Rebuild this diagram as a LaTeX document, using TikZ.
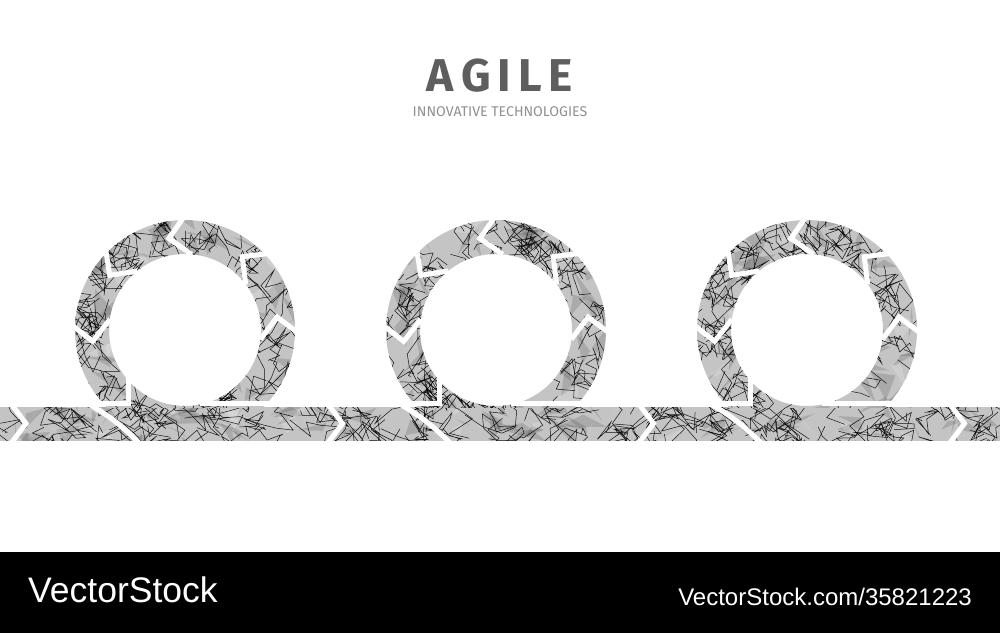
\documentclass[tikz,border=0pt]{standalone}
\usepackage{fontspec}
\setmainfont{Liberation Sans}
\newfontfamily\titlefont{Fira Sans}
\usetikzlibrary{calc}
\definecolor{ringgray}{HTML}{C4C4C4}
\definecolor{titlegray}{HTML}{5E5E5E}
\definecolor{subgray}{HTML}{909090}
\begin{document}
\begin{tikzpicture}[x=1pt,y=1pt,
  gap/.style={draw=white, line width=5pt, line join=miter, line cap=butt},
  tex/.style={draw=black, line width=0.5pt, line join=miter, opacity=0.9},
  darkpatch/.style={fill=black, opacity=0.13},
  lightpatch/.style={fill=white, opacity=0.18},
  wm/.style={text=white, inner sep=0pt}
  ]
\useasboundingbox (0,0) rectangle (1000,633);
\fill[white] (0,0) rectangle (1000,633);
\pgfmathsetseed{4242}

% ---------- title ----------
\node[font=\titlefont\fontsize{46}{46}\selectfont\bfseries, text=titlegray, anchor=base, inner sep=0pt]
  (title) at (500,541.3) {A\kern7pt G\kern7pt I\kern7pt L\kern7pt E};
\node[font=\titlefont\fontsize{14.1}{15}\selectfont, text=subgray, anchor=base, inner sep=0pt]
  (subtitle) at (500,516.3) {INNOVATIVE TECHNOLOGIES};

% ---------- band ----------
\begin{scope}
  \clip (0,193) rectangle (1000,226);
  \fill[ringgray] (0,190) rectangle (1000,230);
  \foreach \k in {1,...,90} {
    \pgfmathsetmacro\px{1000*rnd}
    \pgfmathsetmacro\py{190+40*rnd}
    \fill[darkpatch] (\px,\py) -- ++({30*rand},{20*rand}) -- ++({30*rand},{20*rand}) -- cycle;
  }
  \foreach \k in {1,...,25} {
    \pgfmathsetmacro\px{1000*rnd}
    \pgfmathsetmacro\py{190+40*rnd}
    \fill[lightpatch] (\px,\py) -- ++({30*rand},{20*rand}) -- ++({30*rand},{20*rand}) -- cycle;
  }
  \foreach \k in {1,...,170} {
    \pgfmathsetmacro\px{1000*rnd}
    \pgfmathsetmacro\py{188+44*rnd}
    \draw[tex] (\px,\py) \foreach \j in {1,...,6}{ -- ++({22*rand},{18*rand}) };
  }
\end{scope}

% ---------- rings ----------
\foreach \cx/\nm in {185/loopA,496/loopB,807/loopC} {
  \coordinate (\nm) at (\cx,303);
  \begin{scope}
    \clip (\cx-115,226) rectangle (\cx+115,420);
    \begin{scope}[even odd rule]
    \clip (\cx,303) circle (110) (\cx,303) circle (76);
    \fill[ringgray] (\cx-115,180) rectangle (\cx+115,420);
    \foreach \k in {1,...,45} {
      \pgfmathsetmacro\ang{360*rnd}
      \pgfmathsetmacro\rad{74+40*rnd}
      \fill[darkpatch] ({\cx+\rad*cos(\ang)},{303+\rad*sin(\ang)}) -- ++({28*rand},{28*rand}) -- ++({28*rand},{28*rand}) -- cycle;
    }
    \foreach \k in {1,...,10} {
      \pgfmathsetmacro\ang{360*rnd}
      \pgfmathsetmacro\rad{74+40*rnd}
      \fill[lightpatch] ({\cx+\rad*cos(\ang)},{303+\rad*sin(\ang)}) -- ++({28*rand},{28*rand}) -- ++({28*rand},{28*rand}) -- cycle;
    }
    \foreach \k in {1,...,95} {
      \pgfmathsetmacro\ang{360*rnd}
      \pgfmathsetmacro\rad{72+42*rnd}
      \draw[tex] ({\cx+\rad*cos(\ang)},{303+\rad*sin(\ang)}) \foreach \j in {1,...,6}{ -- ++({20*rand},{20*rand}) };
    }
    \end{scope}
  \end{scope}
  % chevron cuts on the ring
  \foreach \th in {8,52,100,144,187} {
    \draw[gap] ($(\nm)+(\th:93)+(\th-45:28)$) -- ($(\nm)+(\th:93)$) -- ($(\nm)+(\th:93)+(\th-135:28)$);
  }
  % bottom-left corner cut
  \draw[gap] ($(\nm)+(-125,-73.5)$) -- ($(\nm)+(-57,-73.5)$) -- ($(\nm)+(-57,-40)$);
  % bottom-right cut (ring segment meets band)
  \draw[gap] ($(\nm)+(15,-73.5)$) -- ($(\nm)+(125,-73.5)$);
  % diagonal cut in the band
  \draw[gap] ($(\nm)+(-100,-72)$) to[bend left=8] ($(\nm)+(-46,-113)$);
  % arrow-head cut in the band
  \draw[gap] ($(\nm)+(142,-73)$) -- ($(\nm)+(157.5,-93.5)$) -- ($(\nm)+(142,-114)$);
}
\coordinate (bandstart) at (26,209.5);
\draw[gap] ($(bandstart)+(-15.5,20.5)$) -- (bandstart) -- ($(bandstart)+(-15.5,-20.5)$);

% ---------- watermark bar ----------
\fill[black] (0,0) rectangle (1000,81);
\node[wm, font=\fontsize{35.5}{36}\selectfont, anchor=base west] (wmleft) at (28,31) {VectorStock};
\node[wm, font=\fontsize{24}{25}\selectfont, anchor=base east] (wmright) at (972,28) {VectorStock.com/35821223};
\end{tikzpicture}
\end{document}
